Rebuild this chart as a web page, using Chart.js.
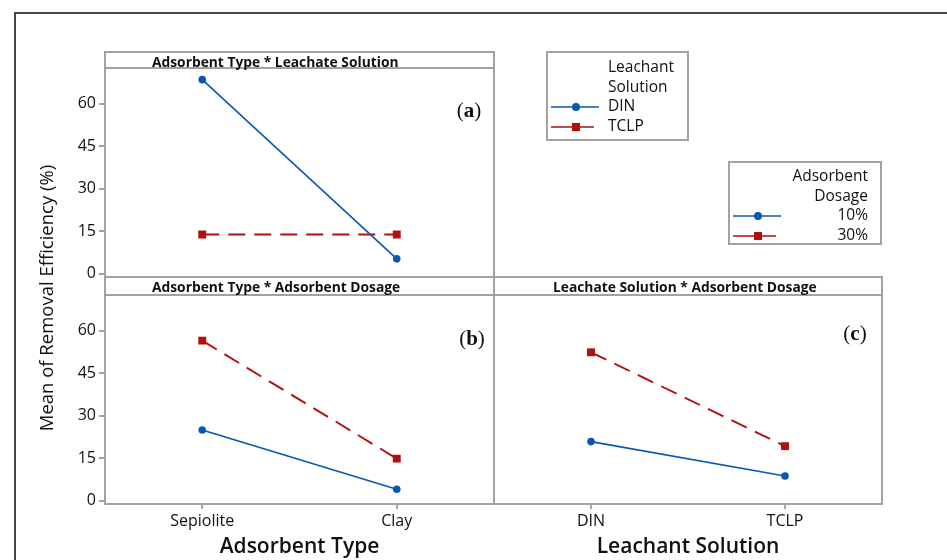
<!DOCTYPE html>
<html>
<head>
<meta charset="utf-8">
<script src="https://cdn.jsdelivr.net/npm/chart.js@4.4.1/dist/chart.umd.min.js"></script>
<style>
  html, body { margin: 0; padding: 0; background: #fff; }
  #fig { position: relative; width: 947px; height: 560px; overflow: hidden; background: #fff;
         font-family: "Open Sans", "Noto Sans", sans-serif; color: #111; }
  .abs { position: absolute; white-space: nowrap; }
  .frame { position: absolute; box-sizing: border-box; border: 2px solid #a2a2a2; }
  .hline { position: absolute; height: 2px; background: #a2a2a2; }
  canvas { position: absolute; }
</style>
</head>
<body>
<div id="fig">
  <!-- outer figure border (top and left edges only inside the page) -->
  <div class="abs" style="left:14px; top:12px; width:1000px; height:1000px; box-sizing:border-box; border-top:2px solid #444; border-left:2px solid #444;"></div>

  <!-- panel frames with header strips -->
  <div class="frame" style="left:104px; top:51px; width:391px; height:227px;"></div>
  <div class="hline" style="left:104px; top:67px; width:391px;"></div>
  <div class="frame" style="left:104px; top:276px; width:391px; height:229px;"></div>
  <div class="hline" style="left:104px; top:294px; width:391px;"></div>
  <div class="frame" style="left:493px; top:276px; width:390px; height:229px;"></div>
  <div class="hline" style="left:493px; top:294px; width:390px;"></div>

  <canvas id="panelA" width="494" height="225" style="left:0px; top:68px;"></canvas>
  <canvas id="panelB" width="494" height="265" style="left:0px; top:295px;"></canvas>
  <canvas id="panelC" width="388" height="265" style="left:494px; top:295px;"></canvas>

  <svg id="legendMarks" class="abs" style="left:0; top:0;" width="947" height="560"></svg>
</div>

<script>
// ---- data ----
const adsorbentTypes = ['Sepiolite', 'Clay'];
const leachantSolutions = ['DIN', 'TCLP'];

// Adsorbent Type * Leachate Solution
const typeSolutionDIN  = [68.5, 5.3];
const typeSolutionTCLP = [13.9, 13.9];

// Adsorbent Type * Adsorbent Dosage
const typeDosage10 = [25.0, 4.1];
const typeDosage30 = [56.5, 14.9];

// Leachate Solution * Adsorbent Dosage
const solutionDosage10 = [20.9, 8.8];
const solutionDosage30 = [52.4, 19.3];

const yTickValues = [0, 15, 30, 45, 60];
const yMin = -1.1, yMax = 72.6;

// ---- styling ----
const BLUE = '#0757b4';
const RED = '#b10f10';
const GRAY = '#a2a2a2';
const TEXT = '#111111';
const SANS = '"Open Sans", "Noto Sans", sans-serif';

function solidSeries(label, data) {
  return {
    label, data,
    borderColor: BLUE, backgroundColor: BLUE, borderWidth: 1.6,
    pointStyle: 'circle', pointRadius: 3.8, pointBorderWidth: 0,
    pointBackgroundColor: BLUE, tension: 0
  };
}
function dashedSeries(label, data) {
  return {
    label, data,
    borderColor: RED, backgroundColor: RED, borderWidth: 1.9, borderDash: [17, 9],
    pointStyle: 'rect', pointRadius: 5.6, pointBorderWidth: 0,
    pointBackgroundColor: RED, tension: 0
  };
}

// showX: category labels + axis title under the panel; otherwise an empty
// 16px strip is kept so the lowest y tick label is not cut off.
function makePanel(id, labels, datasets, opt) {
  return new Chart(document.getElementById(id), {
    type: 'line',
    data: { labels, datasets },
    options: {
      responsive: false,
      animation: false,
      devicePixelRatio: 1,
      layout: { padding: 0, autoPadding: false },
      plugins: { legend: { display: false }, tooltip: { enabled: false } },
      scales: {
        x: {
          type: 'category',
          offset: true,
          display: true,
          grid: { display: opt.showX, drawOnChartArea: false, drawTicks: true, tickLength: 5,
                  color: GRAY, lineWidth: 2, offset: false },
          border: { display: false },
          ticks: { display: opt.showX, color: TEXT, font: { family: SANS, size: 16 }, padding: 3,
                   maxRotation: 0, autoSkip: false },
          title: { display: !!opt.xTitle, text: opt.xTitle || '', color: TEXT,
                   font: { family: SANS, size: 21, weight: '600' }, padding: 0 },
          afterFit: s => { s.height = opt.showX ? 56 : 16; s.paddingLeft = 0; s.paddingRight = 0; }
        },
        y: {
          type: 'linear',
          min: yMin, max: yMax,
          display: opt.showY,
          afterBuildTicks: s => { s.ticks = yTickValues.map(v => ({ value: v })); },
          grid: { display: true, drawOnChartArea: false, drawTicks: true, tickLength: 6,
                  color: GRAY, lineWidth: 2 },
          border: { display: false },
          ticks: { color: TEXT, font: { family: SANS, size: 16 }, padding: 3 },
          afterFit: s => { s.width = opt.showY ? 105 : 0; s.paddingTop = 0; s.paddingBottom = 0; }
        }
      }
    }
  });
}

makePanel('panelA', adsorbentTypes,
  [solidSeries('DIN', typeSolutionDIN), dashedSeries('TCLP', typeSolutionTCLP)],
  { showX: false, showY: true });
makePanel('panelB', adsorbentTypes,
  [solidSeries('10%', typeDosage10), dashedSeries('30%', typeDosage30)],
  { showX: true, showY: true, xTitle: 'Adsorbent Type' });
makePanel('panelC', leachantSolutions,
  [solidSeries('10%', solutionDosage10), dashedSeries('30%', solutionDosage30)],
  { showX: true, showY: false, xTitle: 'Leachant Solution' });

// ---- text annotations ----
const fig = document.getElementById('fig');
function addText(text, x, y, css, anchor) {
  const d = document.createElement('div');
  d.className = 'abs';
  d.textContent = text;
  const tx = anchor === 'left' ? '0' : anchor === 'right' ? '-100%' : '-50%';
  d.style.cssText += `left:${x}px; top:${y}px; transform: translate(${tx}, -50%); ${css}`;
  fig.appendChild(d);
  return d;
}

const headerCss = `font-family:${SANS}; font-size:13.8px; font-weight:700; line-height:16px; color:#111;`;
addText('Adsorbent Type * Leachate Solution', 152, 62, headerCss, 'left');
addText('Adsorbent Type * Adsorbent Dosage', 152, 287, headerCss, 'left');
addText('Leachate Solution * Adsorbent Dosage', 553, 287, headerCss, 'left');

const tagCss = 'font-family:"Liberation Serif","DejaVu Serif",serif; font-size:21px; line-height:24px; color:#111;';
[['a', 469, 110], ['b', 472, 338], ['c', 855, 333]].forEach(([t, x, y]) => {
  const d = addText('', x, y, tagCss, 'center');
  d.innerHTML = `(<b>${t}</b>)`;
});

const yTitle = addText('Mean of Removal Efficiency (%)', 46, 298,
  `font-family:${SANS}; font-size:18.5px; font-weight:500; line-height:22px; color:#111;`, 'center');
yTitle.style.transform = 'translate(-50%, -50%) rotate(-90deg)';

// ---- legends ----
const legCss = `font-family:${SANS}; font-size:15.5px; line-height:18px; color:#111;`;
const box1 = document.createElement('div');
box1.className = 'frame';
box1.style.cssText += 'left:546px; top:51px; width:143px; height:90px; background:#fff;';
fig.insertBefore(box1, document.getElementById('legendMarks'));
const box2 = document.createElement('div');
box2.className = 'frame';
box2.style.cssText += 'left:728px; top:161px; width:154px; height:84px; background:#fff;';
fig.insertBefore(box2, document.getElementById('legendMarks'));

addText('Leachant', 608, 66, legCss, 'left');
addText('Solution', 608, 86, legCss, 'left');
addText('DIN', 608, 105, legCss, 'left');
addText('TCLP', 608, 125, legCss, 'left');

addText('Adsorbent', 868, 175, legCss, 'right');
addText('Dosage', 868, 195, legCss, 'right');
addText('10%', 868, 214, legCss, 'right');
addText('30%', 868, 234, legCss, 'right');

const svg = document.getElementById('legendMarks');
function svgEl(tag, attrs) {
  const e = document.createElementNS('http://www.w3.org/2000/svg', tag);
  for (const k in attrs) e.setAttribute(k, attrs[k]);
  svg.appendChild(e);
}
function legendCircle(x1, x2, cx, y) {
  svgEl('line', { x1, x2, y1: y, y2: y, stroke: BLUE, 'stroke-width': 1.6 });
  svgEl('circle', { cx, cy: y, r: 4, fill: BLUE });
}
function legendRect(x1, x2, cx, y) {
  svgEl('line', { x1, x2, y1: y, y2: y, stroke: RED, 'stroke-width': 1.6 });
  svgEl('rect', { x: cx - 4, y: y - 4, width: 8, height: 8, fill: RED });
}
legendCircle(551, 599, 576, 107);
legendRect(551, 594, 576, 127);
legendCircle(733, 781, 758, 216);
legendRect(733, 776, 758, 236);
</script>
</body>
</html>
